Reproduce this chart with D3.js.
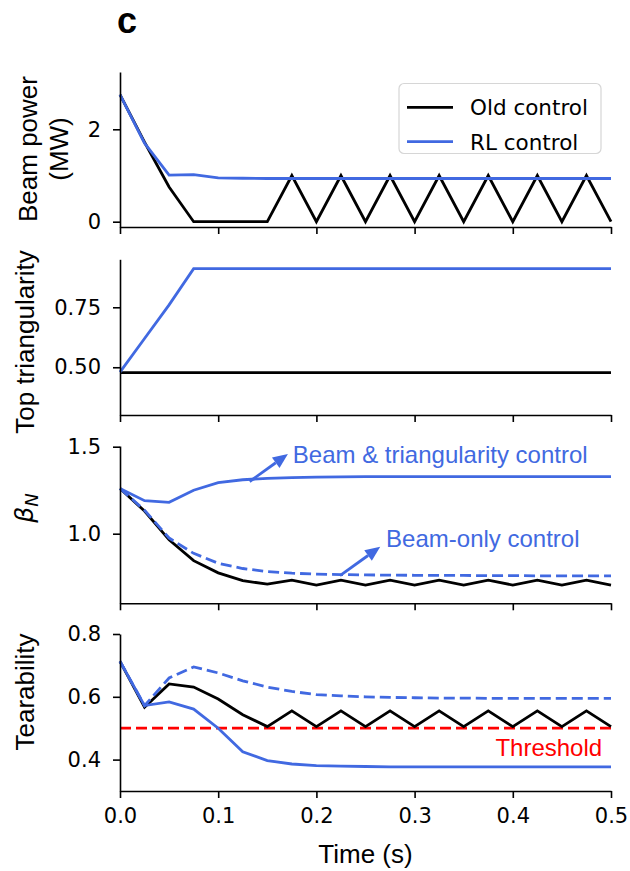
<!DOCTYPE html>
<html>
<head>
<meta charset="utf-8">
<script src="https://cdn.jsdelivr.net/npm/d3@7"></script>
<style>
  html, body { margin: 0; padding: 0; background: #fff; }
  svg { display: block; }
</style>
</head>
<body>
<svg id="chart" width="630" height="871"></svg>
<script>
// Simulation time steps (s)
const time = [0, 0.025, 0.05, 0.075, 0.1, 0.125, 0.15, 0.175, 0.2, 0.225, 0.25,
              0.275, 0.3, 0.325, 0.35, 0.375, 0.4, 0.425, 0.45, 0.475, 0.5];

// Beam power (MW)
const beamOld = [2.75, 1.72, 0.75, 0, 0, 0, 0, 1, 0, 1, 0, 1, 0, 1, 0, 1, 0, 1, 0, 1, 0];
const beamRL  = [2.75, 1.70, 1.01, 1.02, 0.95, 0.94, 0.935, 0.935, 0.935, 0.935, 0.935,
                 0.935, 0.935, 0.935, 0.935, 0.935, 0.935, 0.935, 0.935, 0.935, 0.935];

// Top triangularity
const triOld = [0.478, 0.478, 0.478, 0.478, 0.478, 0.478, 0.478, 0.478, 0.478, 0.478, 0.478,
                0.478, 0.478, 0.478, 0.478, 0.478, 0.478, 0.478, 0.478, 0.478, 0.478];
const triRL  = [0.48, 0.62, 0.76, 0.911, 0.911, 0.911, 0.911, 0.911, 0.911, 0.911, 0.911,
                0.911, 0.911, 0.911, 0.911, 0.911, 0.911, 0.911, 0.911, 0.911, 0.911];

// Normalised beta
const betaOld      = [1.26, 1.13, 0.965, 0.845, 0.775, 0.73, 0.71, 0.733, 0.705, 0.733, 0.705,
                      0.733, 0.705, 0.733, 0.705, 0.733, 0.705, 0.733, 0.705, 0.733, 0.705];
const betaRL       = [1.26, 1.19, 1.18, 1.25, 1.293, 1.31, 1.318, 1.322, 1.325, 1.327, 1.328,
                      1.328, 1.328, 1.328, 1.328, 1.328, 1.328, 1.328, 1.328, 1.328, 1.328];
const betaBeamOnly = [1.26, 1.135, 0.975, 0.887, 0.83, 0.80, 0.782, 0.773, 0.768, 0.765, 0.763,
                      0.762, 0.761, 0.760, 0.760, 0.759, 0.759, 0.758, 0.758, 0.758, 0.758];

// Tearability
const tearOld      = [0.713, 0.567, 0.641, 0.631, 0.593, 0.543, 0.505, 0.555, 0.505, 0.555, 0.505,
                      0.555, 0.505, 0.555, 0.505, 0.555, 0.505, 0.555, 0.505, 0.555, 0.505];
const tearRL       = [0.713, 0.572, 0.584, 0.561, 0.50, 0.425, 0.397, 0.386, 0.381, 0.379, 0.378,
                      0.377, 0.377, 0.377, 0.377, 0.377, 0.377, 0.377, 0.377, 0.377, 0.377];
const tearBeamOnly = [0.713, 0.572, 0.66, 0.695, 0.676, 0.651, 0.631, 0.617, 0.607, 0.603, 0.600,
                      0.598, 0.597, 0.596, 0.596, 0.595, 0.595, 0.595, 0.595, 0.595, 0.595];
const tearThreshold = 0.5;

// Tick values
const xTicks = [0, 0.1, 0.2, 0.3, 0.4, 0.5];
const beamTicks = [0, 2];
const triTicks = [0.5, 0.75];
const betaTicks = [1.0, 1.5];
const tearTicks = [0.4, 0.6, 0.8];

// Legend entries
const legendLabels = ["Old control", "RL control"];

const BLUE = "#4169E1";
const RED = "#ff0000";
const LW = 2.8;

const svg = d3.select("#chart");
const x = d3.scaleLinear().domain([0, 0.5]).range([120, 611]);

const panels = [
  { top: 72,    bottom: 227,   domain: [-0.115, 3.24], ticks: beamTicks, fmt: d3.format("d") },
  { top: 259.3, bottom: 415,   domain: [0.301, 0.95],  ticks: triTicks,  fmt: d3.format(".2f") },
  { top: 446,   bottom: 603.3, domain: [0.6, 1.504],   ticks: betaTicks, fmt: d3.format(".1f") },
  { top: 634,   bottom: 791,   domain: [0.3, 0.8],     ticks: tearTicks, fmt: d3.format(".1f") }
];

const ys = panels.map(p => d3.scaleLinear().domain(p.domain).range([p.bottom, p.top]));

function series(g, y, values, color, dash) {
  const line = d3.line().x((d, i) => x(time[i])).y(d => y(d));
  g.append("path")
    .datum(values)
    .attr("d", line)
    .attr("fill", "none")
    .attr("stroke", color)
    .attr("stroke-width", LW)
    .attr("stroke-linejoin", "miter")
    .attr("stroke-dasharray", dash || null);
}

function styleAxis(g) {
  g.selectAll("path.domain").attr("stroke", "#000").attr("stroke-width", 1.6);
  g.selectAll(".tick line").attr("stroke", "#000").attr("stroke-width", 1.6);
  g.selectAll(".tick text")
    .attr("fill", "#000")
    .style("font-family", "'DejaVu Sans', sans-serif")
    .style("font-size", "21px");
}

panels.forEach((p, k) => {
  const y = ys[k];
  const g = svg.append("g");

  // data
  if (k === 0) {
    series(g, y, beamOld, "#000");
    series(g, y, beamRL, BLUE);
  } else if (k === 1) {
    series(g, y, triOld, "#000");
    series(g, y, triRL, BLUE);
  } else if (k === 2) {
    series(g, y, betaOld, "#000");
    series(g, y, betaRL, BLUE);
    series(g, y, betaBeamOnly, BLUE, "11,5");
  } else {
    g.append("line")
      .attr("x1", x(0)).attr("x2", x(0.5))
      .attr("y1", y(tearThreshold)).attr("y2", y(tearThreshold))
      .attr("stroke", RED).attr("stroke-width", LW)
      .attr("stroke-dasharray", "11,5");
    series(g, y, tearOld, "#000");
    series(g, y, tearRL, BLUE);
    series(g, y, tearBeamOnly, BLUE, "11,5");
  }

  // axes
  const ya = svg.append("g")
    .attr("transform", `translate(${x(0)},0)`)
    .call(d3.axisLeft(y).tickValues(p.ticks).tickFormat(p.fmt)
      .tickSize(7).tickSizeOuter(0).tickPadding(12));
  styleAxis(ya);

  const xa = svg.append("g")
    .attr("transform", `translate(0,${p.bottom})`)
    .call(d3.axisBottom(x).tickValues(xTicks)
      .tickFormat(k === 3 ? d3.format(".1f") : () => "")
      .tickSize(7).tickSizeOuter(0).tickPadding(10));
  styleAxis(xa);
});

// y-axis labels
const labelFont = "'Liberation Sans', Arial, sans-serif";
function yLabel(lines, cx, cy, firstBaseline, lineGap) {
  const t = svg.append("text")
    .attr("transform", `translate(${firstBaseline},${cy}) rotate(-90)`)
    .attr("text-anchor", "middle")
    .style("font-family", labelFont)
    .style("font-size", "26px")
    .attr("fill", "#000");
  lines.forEach((s, i) => {
    t.append("tspan").attr("x", 0).attr("y", i * lineGap).text(s);
  });
}
yLabel(["Beam power", "(MW)"], 0, 149, 37, 31);
yLabel(["Top triangularity"], 0, 342, 34, 0);
yLabel(["Tearability"], 0, 692, 34, 0);

// beta_N label
const bl = svg.append("text")
  .attr("transform", `translate(33,508) rotate(-90)`)
  .attr("text-anchor", "middle")
  .style("font-family", "'DejaVu Sans', sans-serif")
  .attr("fill", "#000");
bl.append("tspan").style("font-size", "25px").style("font-style", "italic").text("β");
bl.append("tspan").attr("dy", 5).style("font-size", "18px").style("font-style", "italic").text("N");

// x-axis label
svg.append("text")
  .attr("x", (x(0) + x(0.5)) / 2)
  .attr("y", 863)
  .attr("text-anchor", "middle")
  .style("font-family", labelFont)
  .style("font-size", "26px")
  .attr("fill", "#000")
  .text("Time (s)");

// panel tag
svg.append("text")
  .attr("x", 117)
  .attr("y", 33)
  .style("font-family", labelFont)
  .style("font-weight", "bold")
  .style("font-size", "36px")
  .attr("fill", "#000")
  .text("c");

// legend
const lg = svg.append("g");
lg.append("rect")
  .attr("x", 399).attr("y", 83.5).attr("width", 202).attr("height", 70)
  .attr("rx", 5).attr("ry", 5)
  .attr("fill", "#fff").attr("fill-opacity", 0.8)
  .attr("stroke", "#d6d6d6").attr("stroke-width", 1.2);
[["#000", 107.3], [BLUE, 141.7]].forEach(([c, ly], i) => {
  lg.append("line")
    .attr("x1", 407).attr("x2", 453).attr("y1", ly).attr("y2", ly)
    .attr("stroke", c).attr("stroke-width", LW);
  lg.append("text")
    .attr("x", 470).attr("y", ly + 8)
    .style("font-family", "'DejaVu Sans', sans-serif")
    .style("font-size", "21.5px")
    .attr("fill", "#000")
    .text(legendLabels[i]);
});

// annotations with arrows
function arrow(y, t0, v0, t1, v1, color) {
  const x0 = x(t0), y0 = y(v0), x1 = x(t1), y1 = y(v1);
  const ang = Math.atan2(y1 - y0, x1 - x0);
  const hl = 15, hw = 6.5;
  const bx = x1 - hl * Math.cos(ang), by = y1 - hl * Math.sin(ang);
  svg.append("line")
    .attr("x1", x0).attr("y1", y0).attr("x2", bx).attr("y2", by)
    .attr("stroke", color).attr("stroke-width", 2.8);
  const px = -Math.sin(ang) * hw, py = Math.cos(ang) * hw;
  svg.append("path")
    .attr("d", `M${x1},${y1}L${bx + px},${by + py}L${bx - px},${by - py}Z`)
    .attr("fill", color);
}
function note(y, t, v, s, color, anchor) {
  svg.append("text")
    .attr("x", x(t)).attr("y", y(v))
    .attr("text-anchor", anchor || "start")
    .style("font-family", labelFont)
    .style("font-size", "24px")
    .attr("fill", color)
    .text(s);
}
arrow(ys[2], 0.132, 1.30, 0.171, 1.458, BLUE);
note(ys[2], 0.176, 1.406, "Beam & triangularity control", BLUE);
arrow(ys[2], 0.224, 0.759, 0.265, 0.925, BLUE);
note(ys[2], 0.271, 0.922, "Beam-only control", BLUE);
note(ys[3], 0.491, 0.412, "Threshold", RED, "end");
</script>
</body>
</html>
